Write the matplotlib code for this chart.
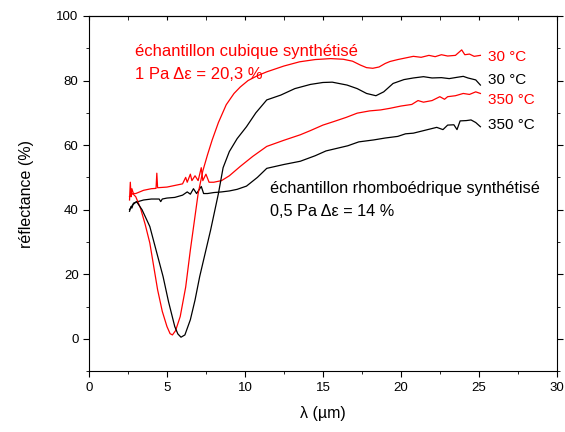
import matplotlib
matplotlib.use("Agg")
import matplotlib.pyplot as plt
from matplotlib.ticker import MultipleLocator

plt.rcParams['font.family'] = ['Liberation Sans', 'DejaVu Sans']

# red, 30 °C (cubic sample)
red30_x = [2.6, 2.8, 3.0, 3.3, 3.6, 3.9, 4.2, 4.4, 4.7, 5.0, 5.2, 5.35, 5.55, 5.85, 6.2, 6.5, 6.8, 7.0,
           7.3, 7.6, 7.9, 8.3, 8.8, 9.3, 9.7, 10.2, 10.8, 11.4, 12.5, 13.5, 14.5, 15.5, 16.3, 16.9,
           17.4, 17.8, 18.2, 18.6, 19.0, 19.3, 19.8, 20.3, 20.8, 21.3, 21.8, 22.2, 22.6, 23.0, 23.5,
           23.9, 24.1, 24.4, 24.7, 25.1]
red30_y = [44, 45, 44, 40.5, 35.5, 29.7, 21, 15.2, 8.5, 3.8, 1.6, 1.2, 2.5, 6.9, 16, 27.5, 38, 45,
           52, 57, 61.6, 67, 72.5, 76, 78, 80, 81.5, 82.7, 84.5, 85.8, 86.5, 86.8, 86.6, 86,
           84.8, 84, 83.8, 84.2, 85.3, 85.9, 86.5, 87, 87.5, 87.2, 87.8, 87.4, 88.0, 87.6, 87.8,
           89.5, 88.0, 88.2, 87.5, 87.8]

# black, 30 °C (rhombohedral sample)
blk30_x = [2.6, 2.8, 3.05, 3.4, 3.9, 4.3, 4.75, 5.1, 5.5, 5.7, 5.9, 6.15, 6.5, 6.8, 7.1, 7.45, 7.8,
           8.3, 8.6, 9.0, 9.5, 10.1, 10.7, 11.4, 12.3, 13.2, 14.2, 15.0, 15.6, 16.55, 17.2, 17.8,
           18.4, 18.9, 19.5, 20.2, 20.8, 21.45, 22.0, 22.6, 23.1, 23.6, 24.0, 24.3, 24.8, 25.1]
blk30_y = [40, 41.5, 42.5, 40, 34.8, 27.5, 19.3, 11.5, 3.8, 1.5, 0.5, 1.2, 5.9, 12, 19.3, 26.5, 33.7,
           45, 53, 58, 62, 65.7, 70, 74, 75.5, 77.5, 78.8, 79.4, 79.5, 78.6, 77.5, 76,
           75.3, 76.5, 79.1, 80.3, 80.8, 81.2, 80.8, 80.9, 80.6, 81.0, 81.3, 80.8, 80.2, 78.6]

# red, 350 °C
red350_x = [2.6, 2.65, 2.7, 2.75, 2.85, 3.0, 3.5, 4.0, 4.3, 4.35, 4.4, 5.0, 5.5, 6.0, 6.2, 6.3, 6.5,
            6.6, 6.8, 7.0, 7.2, 7.3, 7.5, 7.7, 8.0, 8.5, 9.0, 9.7, 10.5, 11.4, 12.5, 13.55, 14.2,
            15.0, 15.7, 16.5, 17.2, 18.0, 18.7, 19.3, 20.0, 20.7, 21.1, 21.45, 22.0, 22.5, 22.8,
            23.0, 23.5, 24.0, 24.4, 24.8, 25.1]
red350_y = [43, 48.5, 44, 46.5, 45, 45, 46, 46.5, 46.6, 51.3, 46.8, 47, 47.5, 48, 50, 48.5, 51,
            49, 50.5, 49, 53, 49, 51, 48.5, 48.5, 49, 50.5, 53.4, 56.5, 59.6, 61.5, 63.2, 64.5,
            66.2, 67.3, 68.6, 69.9, 70.6, 70.9, 71.4, 72.1, 72.6, 73.8, 73.3, 73.8, 75, 74.2,
            75, 75.3, 76, 75.7, 76.5, 76.0]

# black, 350 °C
blk350_x = [2.6, 2.7, 2.75, 2.85, 3.0, 3.5, 4.0, 4.5, 4.6, 4.7, 5.0, 5.5, 6.0, 6.3, 6.5, 6.7, 6.9,
            7.2, 7.35, 7.6, 8.0, 8.5, 9.0, 9.5, 10.1, 10.8, 11.4, 12.5, 13.55, 14.5, 15.2, 15.9,
            16.6, 17.3, 18.25, 19.0, 19.8, 20.3, 20.8, 21.3, 21.8, 22.3, 22.7, 23.0, 23.4, 23.6,
            23.8, 24.2, 24.5, 24.8, 25.1]
blk350_y = [39.5, 41, 40.5, 42, 42.3, 43, 43.3, 43.3, 42.5, 43.3, 43.6, 43.8, 44.5, 45.5, 44.8,
            46.5, 45, 47.2, 45, 45, 45.3, 45.5, 45.8, 46.3, 47.3, 50, 52.8, 54, 55, 56.7, 58.2,
            59, 59.8, 61, 61.6, 62.2, 62.7, 63.5, 63.7, 64.3, 64.9, 65.5, 64.8, 66.2, 66.3,
            64.8, 67.5, 67.6, 67.8, 67.0, 65.7]

fig = plt.figure(figsize=(5.65, 4.32), dpi=100)
ax = fig.add_axes([0.1575, 0.141, 0.828, 0.822])

ax.plot(red350_x, red350_y, color='red', lw=0.9)
ax.plot(blk350_x, blk350_y, color='black', lw=0.9)
ax.plot(red30_x, red30_y, color='red', lw=0.9)
ax.plot(blk30_x, blk30_y, color='black', lw=0.9)

ax.set_xlim(0, 30)
ax.set_ylim(-10, 100)
ax.xaxis.set_major_locator(MultipleLocator(5))
ax.xaxis.set_minor_locator(MultipleLocator(2.5))
ax.yaxis.set_major_locator(MultipleLocator(20))
ax.yaxis.set_minor_locator(MultipleLocator(10))
ax.tick_params(which='both', direction='out', labelsize=9.5, right=True)
ax.tick_params(which='major', length=4)
ax.tick_params(which='minor', length=2.5)

top = ax.secondary_xaxis('top')
top.xaxis.set_major_locator(MultipleLocator(5))
top.xaxis.set_minor_locator(MultipleLocator(2.5))
top.tick_params(which='both', direction='in', labeltop=False, length=3)

ax.set_xlabel('λ (µm)', fontsize=11.5, labelpad=9)
ax.set_ylabel('réflectance (%)', fontsize=11.5, labelpad=16)

ax.text(2.95, 88.9, 'échantillon cubique synthétisé', color='red', fontsize=12, va='center')
ax.text(2.95, 82, '1 Pa Δε = 20,3 %', color='red', fontsize=12, va='center')
ax.text(11.6, 46.7, 'échantillon rhomboédrique synthétisé', color='black', fontsize=11.7, va='center')
ax.text(11.6, 39.3, '0,5 Pa Δε = 14 %', color='black', fontsize=11.7, va='center')

ax.text(25.6, 87.3, '30 °C', color='red', fontsize=11, va='center')
ax.text(25.6, 80.2, '30 °C', color='black', fontsize=11, va='center')
ax.text(25.6, 74.0, '350 °C', color='red', fontsize=11, va='center')
ax.text(25.6, 66.3, '350 °C', color='black', fontsize=11, va='center')

fig.savefig('out.png', dpi=100)
